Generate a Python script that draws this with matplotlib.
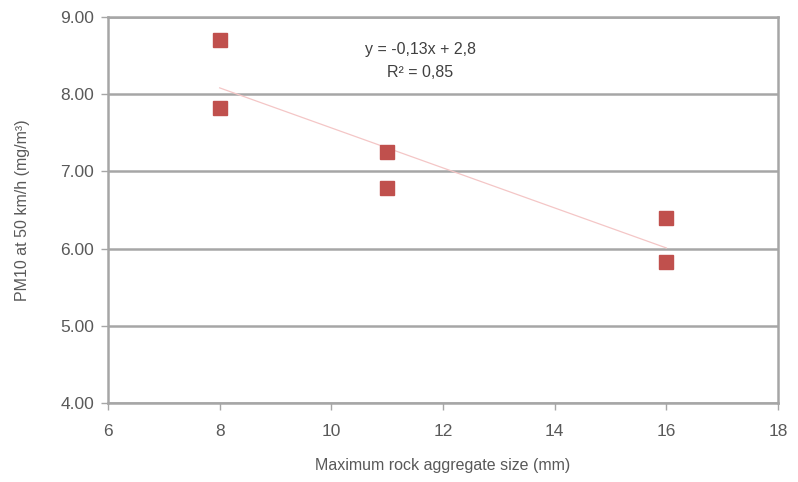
import numpy as np
import matplotlib.pyplot as plt

rock_size = [8, 8, 11, 11, 16, 16]
pm10 = [8.70, 7.82, 7.25, 6.79, 6.40, 5.83]
x_ticks = [6, 8, 10, 12, 14, 16, 18]
y_ticks = [4.0, 5.0, 6.0, 7.0, 8.0, 9.0]
eq_text = 'y = -0,13x + 2,8\nR² = 0,85'

plt.rcParams['font.family'] = ['Liberation Sans', 'DejaVu Sans']
text_col = '#595959'
grid_col = '#a6a6a6'

fig = plt.figure(figsize=(7.98, 4.82), dpi=100)
ax = fig.add_axes([0.1353, 0.1639, 0.975 - 0.1353, 0.9647 - 0.1639])

# trend line through the points
coef = np.polyfit(rock_size, pm10, 1)
xs = np.array([min(rock_size), max(rock_size)])
ax.plot(xs, np.polyval(coef, xs), color='#f4c6c6', lw=0.9, zorder=2)

ax.plot(rock_size, pm10, 's', color='#c0504d', ms=10, mec='#c0504d',
        zorder=3, clip_on=False)

ax.set_xlim(6, 18)
ax.set_ylim(4, 9)
ax.set_xticks(x_ticks)
ax.set_yticks(y_ticks)
ax.set_yticklabels(['%.2f' % v for v in y_ticks])
ax.yaxis.grid(True, color=grid_col, lw=1.8)
ax.set_axisbelow(True)

for s in ax.spines.values():
    s.set_color(grid_col)
    s.set_linewidth(1.8)
ax.tick_params(direction='out', length=5, width=1, color=grid_col,
               labelcolor=text_col, labelsize=12.5, pad=5)
ax.tick_params(axis='x', pad=10)

ax.set_xlabel('Maximum rock aggregate size (mm)', color=text_col,
              fontsize=11.5, labelpad=14)
ax.set_ylabel('PM10 at 50 km/h (mg/m³)', color=text_col, fontsize=11.5,
              labelpad=22)

ax.text(0.466, 0.886, eq_text, transform=ax.transAxes, ha='center',
        va='center', color='#404040', fontsize=11.5, linespacing=1.65)

fig.savefig('out.png', dpi=100)
